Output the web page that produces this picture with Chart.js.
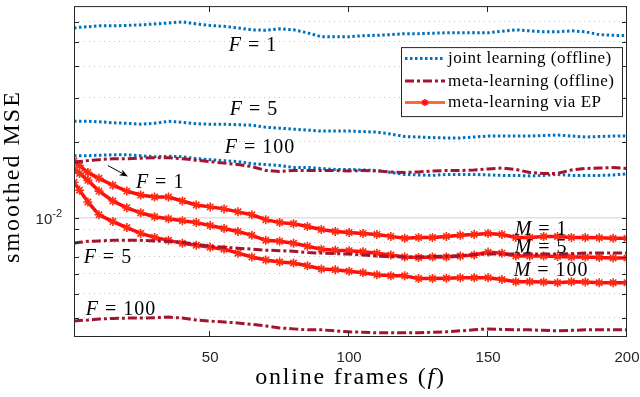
<!DOCTYPE html>
<html>
<head>
<meta charset="utf-8">
<script src="https://cdn.jsdelivr.net/npm/chart.js@4.4.1/dist/chart.umd.min.js"></script>
<style>
  html, body { margin: 0; padding: 0; background: #fff; }
</style>
</head>
<body>
<canvas id="mseChart" width="640" height="397"></canvas>
<script>
// online frames at which the curves were read
const frames = [1, 3, 6, 10, 15, 20, 25, 30, 35, 40, 45, 50, 55, 60, 65, 70, 75, 80, 85, 90, 95,
  100, 105, 110, 115, 120, 125, 130, 135, 140, 145, 150, 155, 160, 165, 170, 175, 180, 185, 190, 195, 200];

// joint learning (offline)
const jointF1 = [0.0567, 0.0570, 0.0573, 0.0578, 0.0578, 0.0580, 0.0583, 0.0588, 0.0593, 0.0599, 0.0588,
  0.0580, 0.0575, 0.0567, 0.0557, 0.0555, 0.0562, 0.0557, 0.0542, 0.0523, 0.0523, 0.0523, 0.0528, 0.0530,
  0.0533, 0.0538, 0.0538, 0.0540, 0.0542, 0.0542, 0.0543, 0.0542, 0.0550, 0.0557, 0.0552, 0.0547, 0.0547,
  0.0552, 0.0547, 0.0533, 0.0530, 0.0528];
const jointF5 = [0.02414, 0.02414, 0.02414, 0.02404, 0.02382, 0.02371, 0.0235, 0.02371, 0.02414, 0.02393,
  0.0236, 0.0235, 0.0235, 0.0234, 0.02329, 0.02287, 0.02267, 0.02247, 0.02227, 0.02207, 0.02207, 0.02207,
  0.02197, 0.02187, 0.02148, 0.021, 0.02091, 0.0208, 0.02073, 0.02073, 0.02091, 0.0211, 0.0211, 0.0211,
  0.0211, 0.0212, 0.02129, 0.0211, 0.02091, 0.021, 0.0211, 0.0211];
const jointF100 = [0.01762, 0.01762, 0.01762, 0.0177, 0.01778, 0.01778, 0.01762, 0.01746, 0.01754, 0.01746,
  0.01715, 0.017, 0.01685, 0.0167, 0.0164, 0.01625, 0.01611, 0.01582, 0.01582, 0.01568, 0.01554, 0.01554,
  0.01547, 0.0154, 0.01512, 0.01485, 0.01478, 0.01472, 0.01485, 0.01485, 0.01485, 0.01478, 0.01472, 0.01472,
  0.01465, 0.01472, 0.01485, 0.01472, 0.01472, 0.01472, 0.01478, 0.01492];

// meta-learning (offline)
const metaF1 = [0.01655, 0.0167, 0.01685, 0.017, 0.01715, 0.01715, 0.01723, 0.01731, 0.01731, 0.01715,
  0.01692, 0.0167, 0.01647, 0.01625, 0.01596, 0.0154, 0.01526, 0.0154, 0.0154, 0.0154, 0.0154, 0.01533,
  0.0154, 0.01533, 0.01519, 0.01512, 0.01519, 0.01533, 0.0154, 0.0154, 0.01547, 0.01561, 0.01575, 0.01554,
  0.01512, 0.01499, 0.01499, 0.01547, 0.01568, 0.01575, 0.01582, 0.01568];
const metaF5 = [0.007914, 0.007985, 0.008058, 0.00809, 0.00813, 0.00813, 0.00813, 0.00809, 0.008058, 0.007985,
  0.007843, 0.0077, 0.00763, 0.007566, 0.0075, 0.007432, 0.0074, 0.007365, 0.00727, 0.007234, 0.0072, 0.00717,
  0.007106, 0.007042, 0.00701, 0.00698, 0.00698, 0.00701, 0.007042, 0.00707, 0.00714, 0.00717, 0.00717,
  0.00717, 0.00717, 0.00717, 0.00717, 0.0072, 0.007234, 0.007234, 0.007234, 0.007234];
const metaF100 = [0.003887, 0.00391, 0.003923, 0.003958, 0.00398, 0.003994, 0.003994, 0.00401, 0.00403, 0.003994,
  0.003923, 0.003887, 0.003853, 0.003819, 0.00377, 0.003717, 0.003652, 0.003619, 0.003587, 0.003587, 0.003555,
  0.003523, 0.00351, 0.003491, 0.003491, 0.003491, 0.003491, 0.00351, 0.003523, 0.003555, 0.003587, 0.003619,
  0.0036, 0.003587, 0.003587, 0.00357, 0.003555, 0.00357, 0.003587, 0.003587, 0.003587, 0.003587];

// meta-learning via EP
const epM1 = [0.01685, 0.01611, 0.01512, 0.01433, 0.01346, 0.01275, 0.0123, 0.01208, 0.01208, 0.01165, 0.01124,
  0.01104, 0.01084, 0.01055, 0.01027, 0.00982, 0.00956, 0.00947, 0.00922, 0.00898, 0.00882, 0.00874, 0.00866,
  0.00858, 0.00843, 0.00828, 0.00835, 0.00835, 0.00843, 0.00851, 0.00858, 0.00866, 0.00858, 0.00835, 0.00835,
  0.00843, 0.00843, 0.00835, 0.00835, 0.00832, 0.00828, 0.00828];
const epM5 = [0.01554, 0.01499, 0.01407, 0.01275, 0.01165, 0.01094, 0.01046, 0.01009, 0.00991, 0.00973, 0.00956,
  0.00931, 0.00906, 0.00882, 0.00851, 0.00813, 0.00806, 0.00791, 0.0077, 0.0075, 0.00743, 0.0074, 0.00733,
  0.00723, 0.00711, 0.00698, 0.00695, 0.00698, 0.00698, 0.00704, 0.00711, 0.0073, 0.00723, 0.00704, 0.00704,
  0.00704, 0.00701, 0.00698, 0.00698, 0.00695, 0.00692, 0.00692];
const epM100 = [0.01382, 0.01286, 0.01155, 0.01027, 0.00965, 0.00914, 0.00866, 0.00835, 0.00813, 0.00791, 0.00777,
  0.00763, 0.0075, 0.00723, 0.00698, 0.00679, 0.00667, 0.00661, 0.00644, 0.00626, 0.00621, 0.00613, 0.00604,
  0.00593, 0.00588, 0.00588, 0.00573, 0.00573, 0.00575, 0.00578, 0.00578, 0.00578, 0.00568, 0.00557, 0.00557,
  0.00555, 0.00552, 0.00557, 0.00555, 0.00552, 0.00552, 0.00552];

// axes
const xTicks = [50, 100, 150, 200];
const yGrid = [0.004, 0.005, 0.006, 0.007, 0.008, 0.009, 0.01, 0.02, 0.03, 0.04, 0.05, 0.06];
const yMajor = 0.01;
const yMin = 0.00336;
const yMax = 0.0692;

const legendLabels = ["joint learning (offline)", "meta-learning (offline)", "meta-learning via EP"];

// curve labels, placed in data coordinates
const noteSym = ["F", "F", "F", "F", "F", "F", "M", "M", "M"];
const noteVal = ["1", "5", "100", "1", "5", "100", "1", "5", "100"];
const noteX = [65.4, 65.8, 67.9, 32, 13.2, 17.9, 169.1, 169.1, 172.7];
const noteY = [0.0483, 0.0269, 0.0189, 0.01382, 0.00692, 0.00433, 0.00898, 0.00757, 0.00615];
const arrowX = [13.2, 20.4];
const arrowY = [0.01611, 0.01459];

const BLUE = "#0072BD";
const DARKRED = "#A2142F";
const RED = "#ff0d0d";

function series(vals){
    return frames.map((f, i) => ({x: f, y: vals[i]}));
}
function joint(vals){
    return {data: series(vals), borderColor: BLUE, borderWidth: 3, borderDash: [2.5, 2.5], pointRadius: 0};
}
function meta(vals){
    return {data: series(vals), borderColor: DARKRED, borderWidth: 3, borderDash: [9, 3, 3, 3], pointRadius: 0};
}
function ep(vals){
    return {data: series(vals), borderColor: RED, borderWidth: 3.5, pointStyle: "star", pointRadius: 4.5,
        pointBorderWidth: 1.6, pointBorderColor: "#ff2a10", pointBackgroundColor: "#ff2a10"};
}

// text with italic pieces, centred on (cx, cy)
function drawRich(ctx, segs, cx, cy, size, spacing){
    ctx.letterSpacing = spacing + "px";
    let widths = segs.map(s => {
        ctx.font = (s.it ? "italic " : "") + size + 'px "Liberation Serif"';
        return ctx.measureText(s.t).width;
    });
    let total = widths.reduce((a, b) => a + b, 0);
    let xx = cx - total / 2;
    ctx.textAlign = "left";
    ctx.textBaseline = "middle";
    segs.forEach((s, i) => {
        ctx.font = (s.it ? "italic " : "") + size + 'px "Liberation Serif"';
        ctx.fillText(s.t, xx, cy);
        xx += widths[i];
    });
    ctx.letterSpacing = "0px";
}

function drawStar(ctx, x, y, r){
    ctx.beginPath();
    for(let k = 0; k < 4; k++){
        let a = k * Math.PI / 4;
        ctx.moveTo(x + Math.cos(a) * r, y + Math.sin(a) * r);
        ctx.lineTo(x - Math.cos(a) * r, y - Math.sin(a) * r);
    }
    ctx.stroke();
}

const decorations = {
    id: "decorations",
    afterDraw(chart){
        const {ctx, chartArea: a, scales: {x, y}} = chart;
        ctx.save();

        // box and inward ticks
        ctx.strokeStyle = "#262626";
        ctx.lineWidth = 1;
        ctx.strokeRect(a.left + 0.5, a.top + 0.5, a.right - a.left - 1, a.bottom - a.top - 1);
        ctx.beginPath();
        xTicks.forEach(v => {
            let px = Math.round(x.getPixelForValue(v)) - 0.5;
            ctx.moveTo(px, a.bottom); ctx.lineTo(px, a.bottom - 6);
            ctx.moveTo(px, a.top); ctx.lineTo(px, a.top + 6);
        });
        yGrid.forEach(v => {
            let py = Math.round(y.getPixelForValue(v)) + 0.5;
            ctx.moveTo(a.left, py); ctx.lineTo(a.left + 5, py);
            ctx.moveTo(a.right, py); ctx.lineTo(a.right - 5, py);
        });
        ctx.stroke();

        // tick labels
        ctx.fillStyle = "#262626";
        ctx.font = '15px "Liberation Sans"';
        ctx.textAlign = "center";
        ctx.textBaseline = "middle";
        xTicks.forEach(v => ctx.fillText(String(v), x.getPixelForValue(v), a.bottom + 21));
        let py0 = y.getPixelForValue(yMajor);
        ctx.textAlign = "right";
        ctx.font = '11px "Liberation Sans"';
        let w2 = ctx.measureText("-2").width;
        ctx.fillText("-2", a.left - 12, py0 - 4);
        ctx.font = '15px "Liberation Sans"';
        ctx.fillText("10", a.left - 12 - w2, py0 + 2.5);

        // axis titles
        ctx.fillStyle = "#000";
        drawRich(ctx, [{t: "online frames ("}, {t: "f", it: true}, {t: ")"}],
            (a.left + a.right) / 2, a.bottom + 41, 24, 1.8);
        ctx.save();
        ctx.translate(13, (a.top + a.bottom) / 2 + 5);
        ctx.rotate(-Math.PI / 2);
        drawRich(ctx, [{t: "smoothed MSE"}], 0, 0, 24, 2);
        ctx.restore();

        // curve labels
        noteSym.forEach((s, i) => {
            drawRich(ctx, [{t: s, it: true}, {t: " = " + noteVal[i]}],
                x.getPixelForValue(noteX[i]), y.getPixelForValue(noteY[i]), 20, 1);
        });

        // arrow
        let x1 = x.getPixelForValue(arrowX[0]), y1 = y.getPixelForValue(arrowY[0]);
        let x2 = x.getPixelForValue(arrowX[1]), y2 = y.getPixelForValue(arrowY[1]);
        let ang = Math.atan2(y2 - y1, x2 - x1);
        ctx.strokeStyle = "#000";
        ctx.lineWidth = 1;
        ctx.beginPath();
        ctx.moveTo(x1, y1);
        ctx.lineTo(x2 - Math.cos(ang) * 4, y2 - Math.sin(ang) * 4);
        ctx.stroke();
        ctx.beginPath();
        ctx.moveTo(x2, y2);
        ctx.lineTo(x2 - Math.cos(ang - 0.38) * 9, y2 - Math.sin(ang - 0.38) * 9);
        ctx.lineTo(x2 - Math.cos(ang) * 6, y2 - Math.sin(ang) * 6);
        ctx.lineTo(x2 - Math.cos(ang + 0.38) * 9, y2 - Math.sin(ang + 0.38) * 9);
        ctx.closePath();
        ctx.fillStyle = "#000";
        ctx.fill();

        // legend
        let lw = 221, lh = 69;
        let lx = a.right - 226, ly = a.top + 41;
        ctx.fillStyle = "#fff";
        ctx.fillRect(lx, ly, lw, lh);
        ctx.strokeStyle = "#262626";
        ctx.strokeRect(lx + 0.5, ly + 0.5, lw, lh);
        let rows = [11.5, 34, 55.5];
        let samples = [chart.data.datasets[3], chart.data.datasets[0], chart.data.datasets[6]];
        samples.forEach((ds, i) => {
            let ry = ly + rows[i];
            ctx.save();
            ctx.strokeStyle = i == 2 ? "#ff6a33" : ds.borderColor;
            ctx.lineWidth = 3;
            ctx.setLineDash(ds.borderDash || []);
            ctx.beginPath();
            ctx.moveTo(lx + 4, ry);
            ctx.lineTo(lx + 44, ry);
            ctx.stroke();
            ctx.restore();
            if(i == 2){
                ctx.strokeStyle = RED;
                ctx.lineWidth = 1.5;
                drawStar(ctx, lx + 24, ry, 3.5);
            }
            ctx.fillStyle = "#000";
            ctx.letterSpacing = "0.5px";
            ctx.font = '17px "Liberation Serif"';
            ctx.textAlign = "left";
            ctx.textBaseline = "middle";
            ctx.fillText(legendLabels[i], lx + 47, ry);
            ctx.letterSpacing = "0px";
        });

        ctx.restore();
    }
};

new Chart("mseChart", {
    type: "line",
    data: {
        datasets: [
            meta(metaF1), meta(metaF5), meta(metaF100),
            joint(jointF1), joint(jointF5), joint(jointF100),
            ep(epM1), ep(epM5), ep(epM100)
        ]
    },
    options: {
        responsive: false,
        animation: false,
        devicePixelRatio: 1,
        layout: {padding: {left: 0, right: 13, top: 1, bottom: 0}},
        scales: {
            x: {
                type: "linear",
                min: 1,
                max: 200,
                ticks: {display: false},
                grid: {display: false},
                border: {display: false},
                afterFit: (s) => { s.height = 60; }
            },
            y: {
                type: "logarithmic",
                min: yMin,
                max: yMax,
                afterBuildTicks: (s) => { s.ticks = yGrid.map(v => ({value: v})); },
                ticks: {display: false},
                grid: {
                    drawTicks: false,
                    color: (c) => c.tick && c.tick.value === yMajor ? "#e2e2e2" : "#c4c4c4",
                    lineWidth: (c) => c.tick && c.tick.value === yMajor ? 1.5 : 1
                },
                border: {
                    display: false,
                    dash: (c) => c.tick && c.tick.value === yMajor ? [] : [1, 4]
                },
                afterFit: (s) => { s.width = 74; }
            }
        },
        plugins: {
            legend: {display: false},
            tooltip: {enabled: false}
        }
    },
    plugins: [decorations]
});
</script>
</body>
</html>
